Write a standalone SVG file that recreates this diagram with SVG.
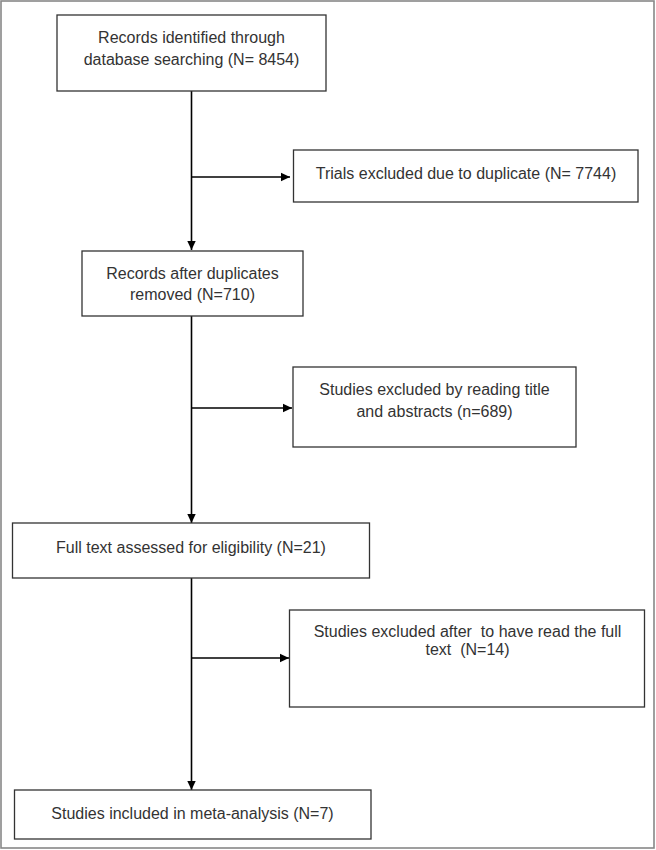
<svg xmlns="http://www.w3.org/2000/svg" width="656" height="850" viewBox="0 0 656 850">
<style>
.box{fill:#fff;stroke:#333;stroke-width:1.3}
.t{font-family:"Liberation Sans",Arial,sans-serif;font-size:16px;fill:#333;text-anchor:middle}
.c{stroke:#000;stroke-width:1.6;fill:none}
</style>
<defs>
<marker id="ah" markerWidth="10" markerHeight="10" refX="9" refY="5" orient="auto" markerUnits="userSpaceOnUse">
<path d="M0,0.8 L9,5 L0,9.2 Z" fill="#000"/>
</marker>
</defs>
<rect x="1" y="1" width="653" height="847" fill="#fff" stroke="#888" stroke-width="1.6"/>
<g id="connectors">
<path class="c" d="M191.5,91 V250" marker-end="url(#ah)"/>
<path class="c" d="M191.5,177 H290" marker-end="url(#ah)"/>
<path class="c" d="M191.5,316 V523" marker-end="url(#ah)"/>
<path class="c" d="M191.5,408 H292" marker-end="url(#ah)"/>
<path class="c" d="M191.5,578 V790" marker-end="url(#ah)"/>
<path class="c" d="M191.5,658 H289" marker-end="url(#ah)"/>
</g>
<g id="n1">
<rect class="box" x="57" y="15" width="269" height="76"/>
<text class="t" x="191.5" y="43">Records identified through</text>
<text class="t" x="191.5" y="65">database searching (N= 8454)</text>
</g>
<g id="n2">
<rect class="box" x="293.5" y="150" width="344.5" height="52"/>
<text class="t" x="466" y="178.5">Trials excluded due to duplicate (N= 7744)</text>
</g>
<g id="n3">
<rect class="box" x="82" y="251" width="221" height="65"/>
<text class="t" x="192.5" y="278.5">Records after duplicates</text>
<text class="t" x="192.5" y="299.5">removed (N=710)</text>
</g>
<g id="n4">
<rect class="box" x="293" y="367" width="283" height="80"/>
<text class="t" x="434.5" y="394.5">Studies excluded by reading title</text>
<text class="t" x="434.5" y="416.5">and abstracts (n=689)</text>
</g>
<g id="n5">
<rect class="box" x="12.5" y="523" width="357" height="55"/>
<text class="t" x="191" y="552.5">Full text assessed for eligibility (N=21)</text>
</g>
<g id="n6">
<rect class="box" x="289.5" y="610" width="355" height="97"/>
<text class="t" x="467.5" y="637" xml:space="preserve">Studies excluded after  to have read the full</text>
<text class="t" x="467.5" y="655" xml:space="preserve">text  (N=14)</text>
</g>
<g id="n7">
<rect class="box" x="14.5" y="790" width="356.5" height="49"/>
<text class="t" x="192.5" y="818.5">Studies included in meta-analysis (N=7)</text>
</g>
</svg>
